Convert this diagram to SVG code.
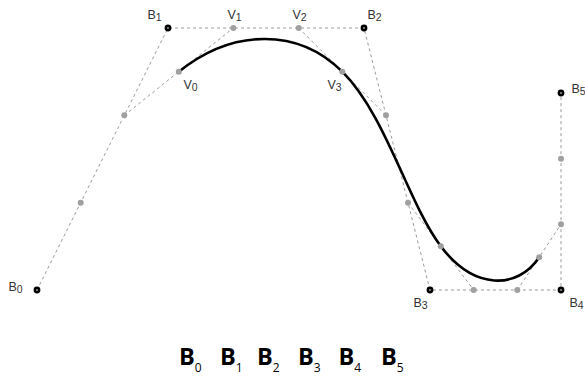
<svg xmlns="http://www.w3.org/2000/svg" width="585" height="377" viewBox="0 0 585 377">
<style>
.dash{fill:none;stroke:#9a9a9a;stroke-width:1;stroke-dasharray:3 3}
.curve{fill:none;stroke:#000;stroke-width:2.6}
.ctrl{fill:#fff;stroke:#000;stroke-width:2.6}
.pt{fill:#a0a0a0}
.lbl{font-family:"Liberation Sans",Arial,sans-serif;font-size:12.5px;fill:#333}
.sub{font-size:10.5px}
.big{font-family:"Open Sans","DejaVu Sans",sans-serif;font-size:23.5px;font-weight:bold;fill:#000}
.bsub{font-family:"Open Sans","DejaVu Sans",sans-serif;font-size:12px;font-weight:normal;fill:#000}
</style>
<rect width="585" height="377" fill="#fff"/>
<g id="connectors">
<polyline class="dash" points="37,290 168,28 364,28 430,290 561,290 561,93"/>
<line class="dash" x1="124.3" y1="115.3" x2="233.3" y2="28"/>
<line class="dash" x1="298.7" y1="28" x2="386" y2="115.3"/>
<line class="dash" x1="408" y1="202.7" x2="473.7" y2="290"/>
<line class="dash" x1="517.3" y1="290" x2="561" y2="224.3"/>
</g>
<g id="curve">
<path class="curve" d="M178.8,71.7 C233.3,28 298.7,28 342.3,71.7 C386,115.3 408,202.7 440.8,246.3 C473.7,290 517.3,290 539.2,257.2"/>
</g>
<g id="points">
<circle class="pt" cx="80.7" cy="202.7" r="3"/>
<circle class="pt" cx="124.3" cy="115.3" r="3"/>
<circle class="pt" cx="233.3" cy="28" r="3"/>
<circle class="pt" cx="298.7" cy="28" r="3"/>
<circle class="pt" cx="386" cy="115.3" r="3"/>
<circle class="pt" cx="408" cy="202.7" r="3"/>
<circle class="pt" cx="473.7" cy="290" r="3"/>
<circle class="pt" cx="517.3" cy="290" r="3"/>
<circle class="pt" cx="561" cy="224.3" r="3"/>
<circle class="pt" cx="561" cy="158.7" r="3"/>
<circle class="pt" cx="178.8" cy="71.7" r="3"/>
<circle class="pt" cx="342.3" cy="71.7" r="3"/>
<circle class="pt" cx="440.8" cy="246.3" r="3"/>
<circle class="pt" cx="539.2" cy="257.2" r="3"/>
</g>
<g id="B0"><circle class="ctrl" cx="37" cy="290" r="2.1"/><text class="lbl" x="8.5" y="290.5">B<tspan class="sub" dy="2">0</tspan></text></g>
<g id="B1"><circle class="ctrl" cx="168" cy="28" r="2.1"/><text class="lbl" x="147.5" y="19">B<tspan class="sub" dy="2">1</tspan></text></g>
<g id="B2"><circle class="ctrl" cx="364" cy="28" r="2.1"/><text class="lbl" x="367.5" y="19">B<tspan class="sub" dy="2">2</tspan></text></g>
<g id="B3"><circle class="ctrl" cx="430" cy="290" r="2.1"/><text class="lbl" x="413.5" y="306.5">B<tspan class="sub" dy="2">3</tspan></text></g>
<g id="B4"><circle class="ctrl" cx="561" cy="290" r="2.1"/><text class="lbl" x="569.5" y="306.5">B<tspan class="sub" dy="2">4</tspan></text></g>
<g id="B5"><circle class="ctrl" cx="561" cy="93" r="2.1"/><text class="lbl" x="571.5" y="93">B<tspan class="sub" dy="2">5</tspan></text></g>
<g id="V0"><text class="lbl" x="183.5" y="89">V<tspan class="sub" dy="2">0</tspan></text></g>
<g id="V1"><text class="lbl" x="227.5" y="19">V<tspan class="sub" dy="2">1</tspan></text></g>
<g id="V2"><text class="lbl" x="292.5" y="19">V<tspan class="sub" dy="2">2</tspan></text></g>
<g id="V3"><text class="lbl" x="327.5" y="89">V<tspan class="sub" dy="2">3</tspan></text></g>
<g id="legend">
<text class="big" x="179" y="364.5">B<tspan class="bsub" dy="7.5">0</tspan></text>
<text class="big" x="220" y="364.5">B<tspan class="bsub" dy="7.5">1</tspan></text>
<text class="big" x="257" y="364.5">B<tspan class="bsub" dy="7.5">2</tspan></text>
<text class="big" x="298" y="364.5">B<tspan class="bsub" dy="7.5">3</tspan></text>
<text class="big" x="338.5" y="364.5">B<tspan class="bsub" dy="7.5">4</tspan></text>
<text class="big" x="381" y="364.5">B<tspan class="bsub" dy="7.5">5</tspan></text>
</g>
</svg>
